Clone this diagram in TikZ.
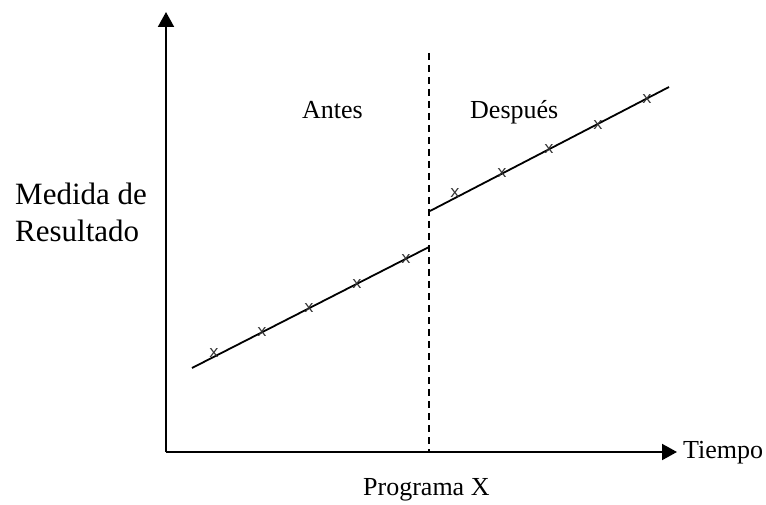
\documentclass[tikz,border=0pt]{standalone}
\usepackage{fontspec}
\setmainfont{Liberation Serif}
\newfontfamily\markfont{Liberation Mono}
\usetikzlibrary{arrows.meta}
\begin{document}
\begin{tikzpicture}[x=1pt,y=-1pt,
  axis/.style={line width=2pt,-{Triangle[length=15pt,width=16pt]}},
  trend/.style={line width=1.8pt},
  cut/.style={line width=1.5pt,dash pattern=on 7pt off 5pt},
  lbl/.style={inner sep=0pt,anchor=base west,font=\fontsize{26}{30}\selectfont},
  bigl/.style={inner sep=0pt,anchor=base west,font=\fontsize{31}{37}\selectfont},
  pt/.style={inner sep=0pt,font=\markfont\fontsize{17}{17}\selectfont,text=black!80}]
\useasboundingbox (0,0) rectangle (766,505);

% axes
\coordinate (o) at (166,452);
\coordinate (ytop) at (166,12);
\coordinate (xend) at (677,452);
\draw[axis] (o) -- (ytop);
\draw[axis] (o) -- (xend);

% programme start
\coordinate (ctop) at (429,53);
\coordinate (cbot) at (429,452);
\draw[cut] (ctop) -- (cbot);

% trend lines
\coordinate (a1) at (192,368);
\coordinate (a2) at (429,247);
\coordinate (b1) at (430,211);
\coordinate (b2) at (669,87);
\draw[trend] (a1) -- (a2);
\draw[trend] (b1) -- (b2);

% observations
\foreach \i/\px/\py in {1/214/353,2/262/332,3/309/308,4/357/284,5/406/259,
                        6/455/193,7/502/173,8/549/149,9/598/125,10/647/99}
  \node[pt] (m\i) at (\px,\py) {x};

% labels
\node[lbl] (antes) at (302,119) {Antes};
\node[lbl] (despues) at (470,119) {Después};
\node[lbl] (tiempo) at (683,458) {Tiempo};
\node[lbl] (prog) at (363,495) {Programa X};
\node[bigl] (med1) at (15,205) {Medida de};
\node[bigl] (med2) at (15,242) {Resultado};
\end{tikzpicture}
\end{document}
